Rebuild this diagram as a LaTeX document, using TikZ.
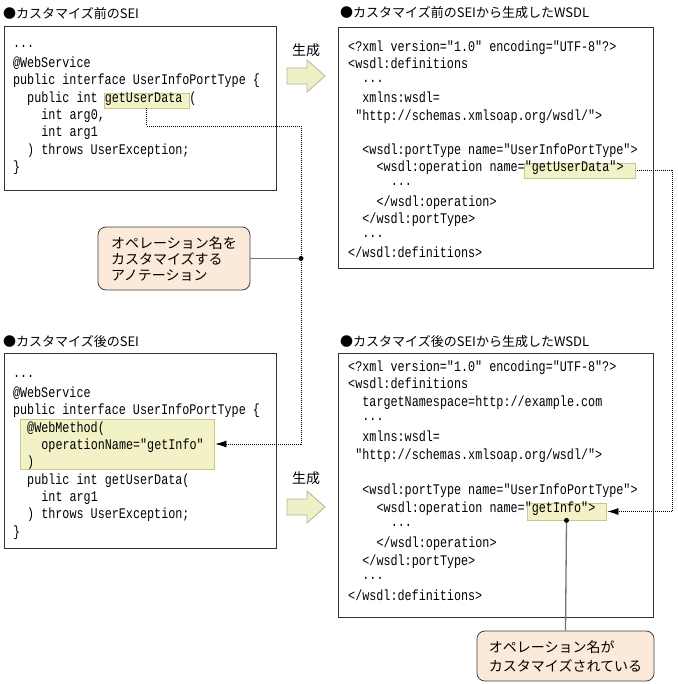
\documentclass[tikz,border=0pt]{standalone}
\usepackage{fontspec}
\usepackage{xcolor}
\usepackage{tikz}
\usetikzlibrary{arrows.meta}

\newfontfamily\jpfont{Noto Sans CJK JP}
\newfontfamily\codefont[FakeStretch=0.8]{Liberation Mono}

\definecolor{hlfill}{HTML}{F2F2C6}
\definecolor{hledge}{HTML}{C8C88C}
\definecolor{notefill}{HTML}{FBE9D9}
\definecolor{arrowfill}{HTML}{F0F0C8}
\definecolor{arrowedge}{HTML}{B4B496}

\begin{document}
\begin{tikzpicture}[x=1pt,y=-1pt,
  code/.style={anchor=base west,inner sep=0pt,font=\codefont\fontsize{14.7pt}{16pt}\selectfont},
  boxtitle/.style={anchor=west,inner sep=0pt,font=\jpfont\fontsize{13pt}{16pt}\selectfont},
  gentext/.style={inner sep=0pt,font=\jpfont\fontsize{14pt}{16pt}\selectfont},
  hilite/.style={draw=hledge,fill=hlfill,line width=0.8pt,inner sep=0pt},
  note/.style={draw=black!75,fill=notefill,rounded corners=8pt,align=left,line width=0.8pt,inner xsep=12pt,font=\jpfont\fontsize{14pt}{16pt}\selectfont},
  codeframe/.style={draw=black!80,line width=0.8pt},
  genarrow/.style={draw=arrowedge,fill=arrowfill,line width=0.8pt},
  tieline/.style={dash pattern=on 1pt off 1pt,line width=0.8pt},
  leader/.style={draw=black!55,line width=1.3pt},
  joint/.style={circle,fill=black,inner sep=0pt,minimum size=5pt}]
  \useasboundingbox (0,0) rectangle (677,684);

  % frames
  \draw[codeframe] (4,26) rectangle (276,190);
  \draw[codeframe] (338,27) rectangle (653,268);
  \draw[codeframe] (4,353) rectangle (276,548);
  \draw[codeframe] (338,353) rectangle (653,617);

  % titles
  \node[boxtitle] (ttlA) at (3,13) {●カスタマイズ前のSEI};
  \node[boxtitle] (ttlB) at (340,13) {●カスタマイズ前のSEIから生成したWSDL};
  \node[boxtitle] (ttlC) at (3,342) {●カスタマイズ後のSEI};
  \node[boxtitle] (ttlD) at (340,342) {●カスタマイズ後のSEIから生成したWSDL};

  % highlights
  \node[hilite, minimum width=85pt, minimum height=15pt] (hlA) at (146.5,100.5) {};
  \node[hilite, minimum width=194pt, minimum height=50pt] (hlB) at (117,444) {};
  \node[hilite, minimum width=111pt, minimum height=15pt] (hlC) at (579.5,170.5) {};
  \node[hilite, minimum width=79pt, minimum height=17pt] (hlD) at (566.5,511.5) {};

  % SEI before
  \node[code] (sa1) at (12.8,50.3) {···};
  \node[code] (sa2) at (12.8,67.6) {@WebService};
  \node[code] (sa3) at (12.8,85.0) {public interface UserInfoPortType \{};
  \node[code] (sa4) at (27.0,102.3) {public int getUserData (};
  \node[code] (sa5) at (41.2,119.6) {int arg0,};
  \node[code] (sa6) at (41.2,137.0) {int arg1};
  \node[code] (sa7) at (27.0,154.3) {) throws UserException;};
  \node[code] (sa8) at (12.8,171.6) {\}};

  % WSDL before
  \node[code] (wa1) at (348,51.3) {<?xml version="1.0" encoding="UTF-8"?>};
  \node[code] (wa2) at (348,68.5) {<wsdl:definitions};
  \node[code] (wa3) at (362.2,85.7) {···};
  \node[code] (wa4) at (362.2,102.9) {xmlns:wsdl=};
  \node[code] (wa5) at (355.1,120.1) {"http://schemas.xmlsoap.org/wsdl/">};
  \node[code] (wa6) at (362.2,154.5) {<wsdl:portType name="UserInfoPortType">};
  \node[code] (wa7) at (376.4,171.7) {<wsdl:operation name="getUserData">};
  \node[code] (wa8) at (390.6,188.9) {···};
  \node[code] (wa9) at (376.4,206.1) {</wsdl:operation>};
  \node[code] (wa10) at (362.2,223.3) {</wsdl:portType>};
  \node[code] (wa11) at (362.2,240.5) {···};
  \node[code] (wa12) at (348,257.7) {</wsdl:definitions>};

  % SEI after
  \node[code] (sb1) at (12.8,380.0) {···};
  \node[code] (sb2) at (12.8,397.3) {@WebService};
  \node[code] (sb3) at (12.8,414.7) {public interface UserInfoPortType \{};
  \node[code] (sb4) at (27.0,432.0) {@WebMethod(};
  \node[code] (sb5) at (41.2,449.4) {operationName="getInfo"};
  \node[code] (sb6) at (27.0,466.7) {)};
  \node[code] (sb7) at (27.0,484.0) {public int getUserData(};
  \node[code] (sb8) at (41.2,501.4) {int arg1};
  \node[code] (sb9) at (27.0,518.7) {) throws UserException;};
  \node[code] (sb10) at (12.8,536.1) {\}};

  % WSDL after
  \node[code] (wb1) at (348,371.0) {<?xml version="1.0" encoding="UTF-8"?>};
  \node[code] (wb2) at (348,388.6) {<wsdl:definitions};
  \node[code] (wb3) at (362.2,406.3) {targetNamespace=http://example.com};
  \node[code] (wb4) at (362.2,423.9) {···};
  \node[code] (wb5) at (362.2,441.6) {xmlns:wsdl=};
  \node[code] (wb6) at (355.1,459.2) {"http://schemas.xmlsoap.org/wsdl/">};
  \node[code] (wb7) at (362.2,494.5) {<wsdl:portType name="UserInfoPortType">};
  \node[code] (wb8) at (376.4,512.1) {<wsdl:operation name="getInfo">};
  \node[code] (wb9) at (390.6,529.8) {···};
  \node[code] (wb10) at (376.4,547.4) {</wsdl:operation>};
  \node[code] (wb11) at (362.2,565.0) {</wsdl:portType>};
  \node[code] (wb12) at (362.2,582.7) {···};
  \node[code] (wb13) at (348,600.3) {</wsdl:definitions>};

  % generate arrows
  \coordinate (genA) at (306,76);
  \coordinate (genB) at (306,507);
  \draw[genarrow] (genA) ++(-19,-8) -- ++(20,0) -- ++(0,-8) -- ++(18,16) -- ++(-18,16) -- ++(0,-8) -- ++(-20,0) -- cycle;
  \draw[genarrow] (genB) ++(-19,-8) -- ++(20,0) -- ++(0,-8) -- ++(18,16) -- ++(-18,16) -- ++(0,-8) -- ++(-20,0) -- cycle;
  \node[gentext] (genAtxt) at (306,50) {生成};
  \node[gentext] (genBtxt) at (306,478) {生成};

  % notes
  \node[note, minimum width=152pt, minimum height=63pt] (noteA) at (174,258.5) {オペレーション名を\\カスタマイズする\\アノテーション};
  \node[note, minimum width=177pt, minimum height=50pt, font=\jpfont\fontsize{14pt}{19pt}\selectfont] (noteB) at (565.5,656) {オペレーション名が\\カスタマイズされている};

  % dotted links
  \coordinate (turnA) at (301,126);
  \coordinate (dotA) at (301,258.5);
  \coordinate (turnC) at (672,170.5);
  \draw[tieline,-{Latex[length=11pt,width=7pt]}] (hlA.south) |- (turnA) |- ([xshift=1pt]hlB.east);
  \draw[tieline,-{Latex[length=11pt,width=7pt]}] ([xshift=2pt]hlC.east) -- (turnC) |- ([xshift=1pt]hlD.east);

  % leaders
  \draw[leader] (noteA.east) -- (dotA);
  \draw[leader] (hlD.south) -- (noteB.north);
  \node[joint] (jointA) at (dotA) {};
  \node[joint] (jointD) at (hlD.south) {};
\end{tikzpicture}
\end{document}
